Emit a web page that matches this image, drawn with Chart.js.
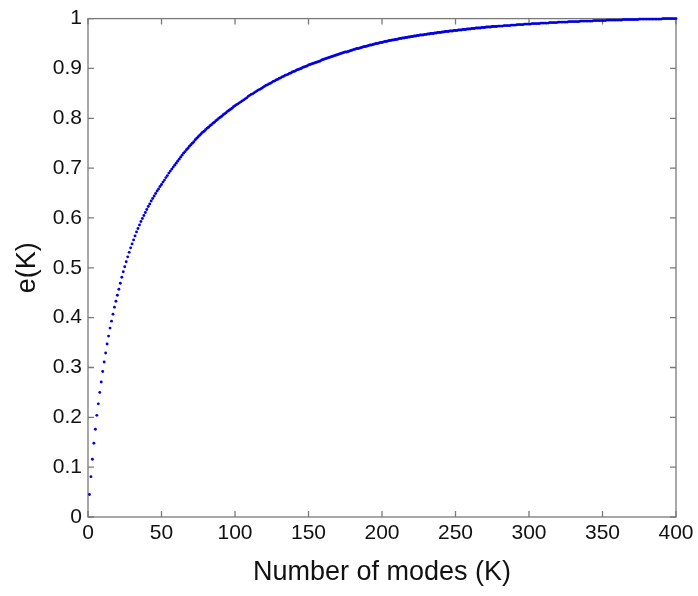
<!DOCTYPE html>
<html>
<head>
<meta charset="utf-8">
<script src="https://cdn.jsdelivr.net/npm/chart.js@4"></script>
<style>
  html, body { margin: 0; padding: 0; background: #fff; }
  #wrap { width: 698px; height: 596px; position: relative; }
</style>
</head>
<body>
<div id="wrap"><canvas id="energyChart"></canvas></div>
<script>
// e(K), one value per mode K = 1..400
const eValues = [
  0.045, 0.081, 0.116, 0.148, 0.176, 0.204, 0.227, 0.250, 0.271, 0.292,
  0.311, 0.329, 0.347, 0.363, 0.379, 0.393, 0.407, 0.421, 0.433, 0.445,
  0.457, 0.469, 0.481, 0.492, 0.502, 0.512, 0.522, 0.531, 0.540, 0.548,
  0.556, 0.564, 0.572, 0.579, 0.586, 0.593, 0.599, 0.605, 0.611, 0.617,
  0.623, 0.628, 0.634, 0.639, 0.644, 0.649, 0.654, 0.658, 0.663, 0.667,
  0.672, 0.676, 0.681, 0.685, 0.690, 0.694, 0.698, 0.702, 0.706, 0.710,
  0.714, 0.718, 0.722, 0.726, 0.730, 0.733, 0.737, 0.740, 0.744, 0.747,
  0.750, 0.753, 0.757, 0.760, 0.763, 0.766, 0.769, 0.772, 0.774, 0.777,
  0.780, 0.782, 0.785, 0.787, 0.790, 0.792, 0.795, 0.797, 0.800, 0.802,
  0.804, 0.807, 0.809, 0.811, 0.814, 0.816, 0.818, 0.820, 0.823, 0.825,
  0.827, 0.829, 0.831, 0.833, 0.835, 0.837, 0.839, 0.841, 0.844, 0.846,
  0.848, 0.849, 0.851, 0.853, 0.855, 0.857, 0.858, 0.860, 0.862, 0.864,
  0.866, 0.867, 0.869, 0.870, 0.872, 0.874, 0.875, 0.877, 0.878, 0.880,
  0.881, 0.883, 0.884, 0.886, 0.887, 0.888, 0.890, 0.891, 0.893, 0.894,
  0.895, 0.897, 0.898, 0.899, 0.900, 0.902, 0.903, 0.904, 0.905, 0.907,
  0.908, 0.909, 0.910, 0.911, 0.912, 0.913, 0.914, 0.915, 0.917, 0.918,
  0.919, 0.920, 0.921, 0.922, 0.923, 0.924, 0.925, 0.926, 0.927, 0.928,
  0.929, 0.930, 0.931, 0.932, 0.933, 0.933, 0.934, 0.935, 0.936, 0.937,
  0.938, 0.939, 0.940, 0.940, 0.941, 0.942, 0.943, 0.944, 0.944, 0.945,
  0.946, 0.947, 0.947, 0.948, 0.949, 0.950, 0.950, 0.951, 0.952, 0.952,
  0.953, 0.954, 0.954, 0.955, 0.956, 0.956, 0.957, 0.957, 0.958, 0.958,
  0.959, 0.960, 0.960, 0.961, 0.961, 0.962, 0.962, 0.963, 0.963, 0.964,
  0.964, 0.965, 0.965, 0.966, 0.966, 0.967, 0.967, 0.967, 0.968, 0.968,
  0.969, 0.969, 0.970, 0.970, 0.970, 0.971, 0.971, 0.972, 0.972, 0.972,
  0.973, 0.973, 0.974, 0.974, 0.974, 0.975, 0.975, 0.975, 0.976, 0.976,
  0.976, 0.977, 0.977, 0.977, 0.978, 0.978, 0.978, 0.979, 0.979, 0.979,
  0.980, 0.980, 0.980, 0.981, 0.981, 0.981, 0.981, 0.982, 0.982, 0.982,
  0.983, 0.983, 0.983, 0.983, 0.984, 0.984, 0.984, 0.984, 0.985, 0.985,
  0.985, 0.985, 0.986, 0.986, 0.986, 0.986, 0.986, 0.987, 0.987, 0.987,
  0.987, 0.988, 0.988, 0.988, 0.988, 0.988, 0.989, 0.989, 0.989, 0.989,
  0.989, 0.990, 0.990, 0.990, 0.990, 0.990, 0.990, 0.991, 0.991, 0.991,
  0.991, 0.991, 0.991, 0.992, 0.992, 0.992, 0.992, 0.992, 0.992, 0.993,
  0.993, 0.993, 0.993, 0.993, 0.993, 0.993, 0.994, 0.994, 0.994, 0.994,
  0.994, 0.994, 0.994, 0.994, 0.995, 0.995, 0.995, 0.995, 0.995, 0.995,
  0.995, 0.995, 0.995, 0.996, 0.996, 0.996, 0.996, 0.996, 0.996, 0.996,
  0.996, 0.996, 0.997, 0.997, 0.997, 0.997, 0.997, 0.997, 0.997, 0.997,
  0.997, 0.997, 0.997, 0.998, 0.998, 0.998, 0.998, 0.998, 0.998, 0.998,
  0.998, 0.998, 0.998, 0.998, 0.999, 0.999, 0.999, 0.999, 0.999, 0.999,
  0.999, 0.999, 0.999, 0.999, 0.999, 0.999, 0.999, 0.999, 0.999, 0.999,
  1.000, 1.000, 1.000, 1.000, 1.000, 1.000, 1.000, 1.000, 1.000, 1.000
];

const xTicks = [0, 50, 100, 150, 200, 250, 300, 350, 400];
const yTicks = [0, 0.1, 0.2, 0.3, 0.4, 0.5, 0.6, 0.7, 0.8, 0.9, 1];
const yTickLabels = ['0', '0.1', '0.2', '0.3', '0.4', '0.5', '0.6', '0.7', '0.8', '0.9', '1'];

const axisGray = '#7a7a7a';
const textColor = '#111';

// MATLAB style box with inward ticks on all four sides
const boxAxes = {
  id: 'boxAxes',
  beforeDatasetsDraw(chart) {
    const { ctx, chartArea: a, scales: { x, y } } = chart;
    const len = 6;
    ctx.save();
    ctx.strokeStyle = axisGray;
    ctx.lineWidth = 1.3;
    ctx.strokeRect(a.left, a.top, a.right - a.left, a.bottom - a.top);
    ctx.beginPath();
    xTicks.forEach(function(v) {
      const px = x.getPixelForValue(v);
      ctx.moveTo(px, a.bottom); ctx.lineTo(px, a.bottom - len);
      ctx.moveTo(px, a.top); ctx.lineTo(px, a.top + len);
    });
    yTicks.forEach(function(v) {
      const py = y.getPixelForValue(v);
      ctx.moveTo(a.left, py); ctx.lineTo(a.left + len, py);
      ctx.moveTo(a.right, py); ctx.lineTo(a.right - len, py);
    });
    ctx.stroke();
    ctx.restore();
  }
};

const tickFont = { family: '"Liberation Sans", Arial, sans-serif', size: 21 };
const titleFont = { family: '"Liberation Sans", Arial, sans-serif', size: 27 };

new Chart(document.getElementById('energyChart'), {
  type: 'scatter',
  data: {
    datasets: [{
      data: eValues.map(function(v, i) { return { x: i + 1, y: v }; }),
      backgroundColor: '#0000e6',
      borderWidth: 0,
      pointRadius: 1.45,
      clip: false
    }]
  },
  options: {
    responsive: true,
    maintainAspectRatio: false,
    animation: false,
    layout: { padding: { top: 17, right: 22, left: 0, bottom: 0 } },
    plugins: {
      legend: { display: false },
      tooltip: { enabled: false }
    },
    scales: {
      x: {
        type: 'linear',
        min: 0,
        max: 400,
        grid: { display: false, drawTicks: false },
        border: { display: false },
        afterBuildTicks: function(scale) {
          scale.ticks = xTicks.map(function(v) { return { value: v }; });
        },
        afterFit: function(scale) { scale.height = 79; },
        ticks: {
          color: textColor,
          font: tickFont,
          padding: 4,
          maxRotation: 0,
          autoSkip: false
        },
        title: {
          display: true,
          text: 'Number of modes (K)',
          color: textColor,
          font: titleFont,
          padding: { top: 0, bottom: 7 }
        }
      },
      y: {
        type: 'linear',
        min: 0,
        max: 1,
        grid: { display: false, drawTicks: false },
        border: { display: false },
        afterBuildTicks: function(scale) {
          scale.ticks = yTicks.map(function(v) { return { value: v }; });
        },
        afterFit: function(scale) { scale.width = 88; },
        ticks: {
          color: textColor,
          font: tickFont,
          padding: 6,
          autoSkip: false,
          callback: function(value, index) { return yTickLabels[index]; }
        },
        title: {
          display: true,
          text: 'e(K)',
          color: textColor,
          font: titleFont,
          padding: { top: 11, bottom: 0 }
        }
      }
    }
  },
  plugins: [boxAxes]
});
</script>
</body>
</html>
